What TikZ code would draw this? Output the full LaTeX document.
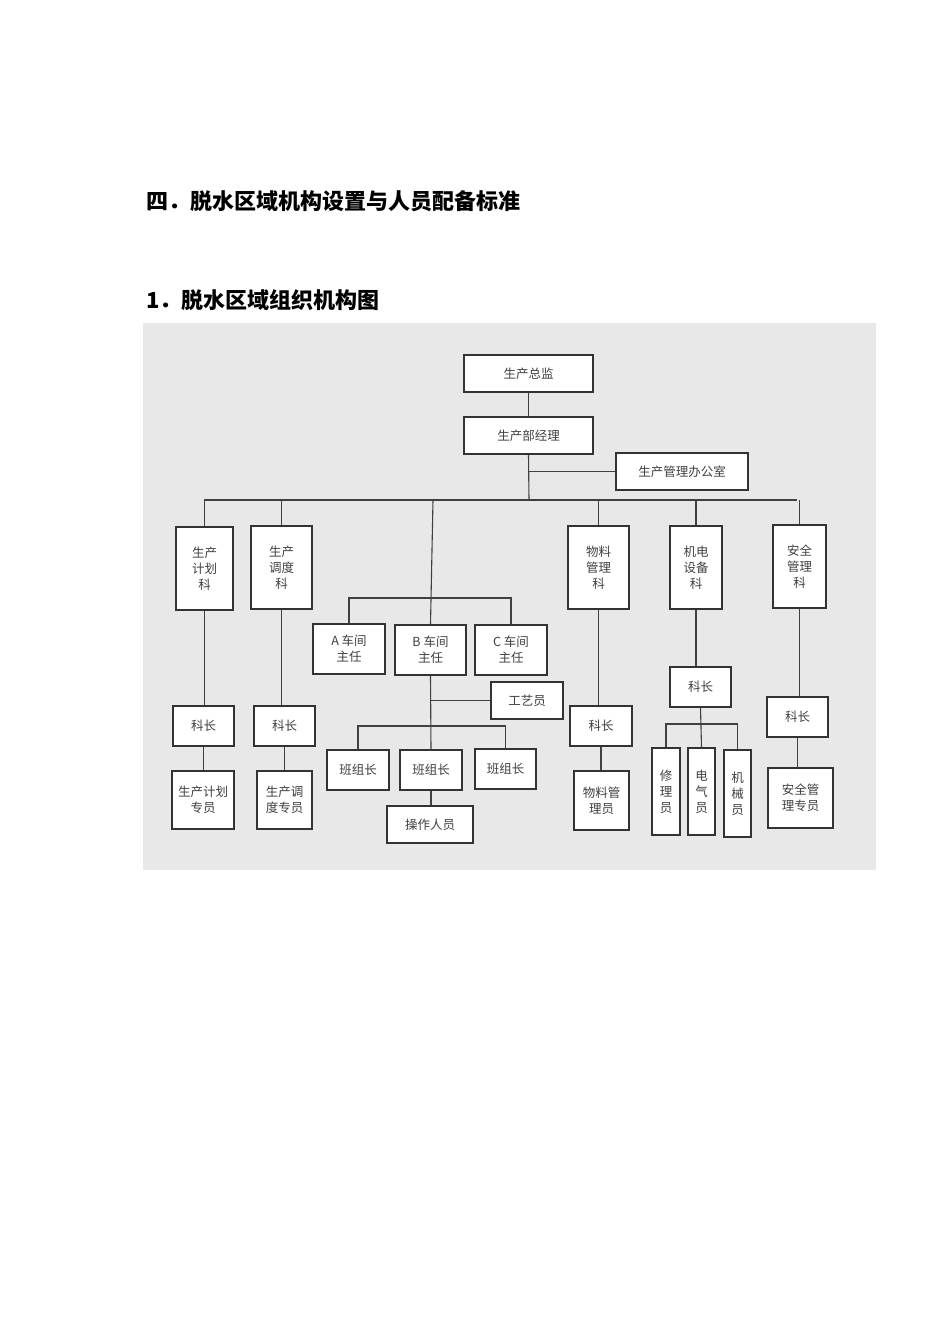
\documentclass[tikz,border=0pt]{standalone}
\usepackage{fontspec}
\setmainfont{Noto Sans CJK SC}
\begin{document}
\begin{tikzpicture}[x=1pt,y=-1pt,
  box/.style={draw=black!80,fill=white,line width=1.1pt,inner sep=0pt,align=center,font=\fontsize{12.5}{16}\selectfont,text=black!75},
  ln/.style={draw=black!75,line width=1.1pt}]
\useasboundingbox (0,0) rectangle (950,1344);
\fill[white] (0,0) rectangle (950,1344);
\fill[black!9] (143,323) rectangle (876,870);
\node[anchor=west,font=\fontsize{22}{26}\selectfont\bfseries] (t1) at (143,201) {四．脱水区域机构设置与人员配备标准};
\node[anchor=west,font=\fontsize{22}{26}\selectfont\bfseries] (t2) at (143,300) {1．脱水区域组织机构图};
\newcommand\bx[6]{\node[box,minimum width={#4-#2},minimum height={#5-#3}] (#1) at ({(#2+#4)/2},{(#3+#5)/2}) {#6};}
\bx{zj}{464}{355}{593}{392}{生产总监}
\bx{jl}{464}{417}{593}{454}{生产部经理}
\bx{bgs}{616}{453}{748}{490}{生产管理办公室}
\bx{jh}{176}{527}{233}{610}{生产\\计划\\科}
\bx{dd}{251}{526}{312}{609}{生产\\调度\\科}
\bx{wl}{568}{526}{629}{609}{物料\\管理\\科}
\bx{jd}{670}{526}{722}{609}{机电\\设备\\科}
\bx{aq}{773}{525}{826}{608}{安全\\管理\\科}
\bx{A}{313}{624}{385}{674}{A 车间\\主任}
\bx{B}{395}{625}{466}{675}{B 车间\\主任}
\bx{C}{475}{625}{547}{675}{C 车间\\主任}
\bx{gy}{491}{682}{563}{719}{工艺员}
\bx{bz1}{327}{750}{389}{790}{班组长}
\bx{bz2}{400}{750}{462}{790}{班组长}
\bx{bz3}{475}{749}{536}{789}{班组长}
\bx{cz}{387}{806}{473}{843}{操作人员}
\bx{kz1}{173}{706}{234}{746}{科长}
\bx{kz2}{254}{706}{315}{746}{科长}
\bx{zy1}{172}{771}{234}{829}{生产计划\\专员}
\bx{zy2}{257}{771}{312}{829}{生产调\\度专员}
\bx{kz3}{570}{706}{632}{746}{科长}
\bx{wly}{574}{771}{629}{830}{物料管\\理员}
\bx{kz4}{670}{667}{731}{707}{科长}
\bx{xl}{652}{748}{680}{835}{修\\理\\员}
\bx{dq}{688}{748}{715}{835}{电\\气\\员}
\bx{jx}{724}{750}{751}{837}{机\\械\\员}
\bx{kz5}{767}{697}{828}{737}{科长}
\bx{aqy}{768}{768}{833}{828}{安全管\\理专员}
\coordinate (m) at (529,500);
\coordinate (bb) at (433,500);
\draw[ln] (zj.south) -- (jl.north);
\draw[ln] (jl.south) -- (m);
\draw[ln] (bgs.west) -- (bgs.west-|m);
\draw[ln] (204,500) -- (797,500);
\draw[ln] (jh.north) -- (jh.north|-m);
\draw[ln] (dd.north) -- (dd.north|-m);
\draw[ln] (wl.north) -- (wl.north|-m);
\draw[ln] (jd.north) -- (jd.north|-m);
\draw[ln] (aq.north) -- (aq.north|-m);
\draw[ln] (B.north) -- (bb);
\draw[ln] (A.north) |- (B.north|-0,598) -| (C.north);
\draw[ln] (B.south) -- (bz2.north);
\draw[ln] (gy.west) -- (gy.west-|B);
\draw[ln] (bz1.north) |- (433,726) -| (bz3.north);
\draw[ln] (bz2.south) -- (bz2.south|-cz.north);
\draw[ln] (jh.south) -- (jh.south|-kz1.north);
\draw[ln] (kz1.south) -- (kz1.south|-zy1.north);
\draw[ln] (dd.south) -- (dd.south|-kz2.north);
\draw[ln] (kz2.south) -- (kz2.south|-zy2.north);
\draw[ln] (wl.south) -- (wl.south|-kz3.north);
\draw[ln] (kz3.south) -- (kz3.south|-wly.north);
\draw[ln] (jd.south) -- (jd.south|-kz4.north);
\draw[ln] (kz4.south) -- (dq.north);
\draw[ln] (xl.north) |- (701,724) -| (jx.north);
\draw[ln] (aq.south) -- (aq.south|-kz5.north);
\draw[ln] (kz5.south) -- (kz5.south|-aqy.north);
\end{tikzpicture}
\end{document}
